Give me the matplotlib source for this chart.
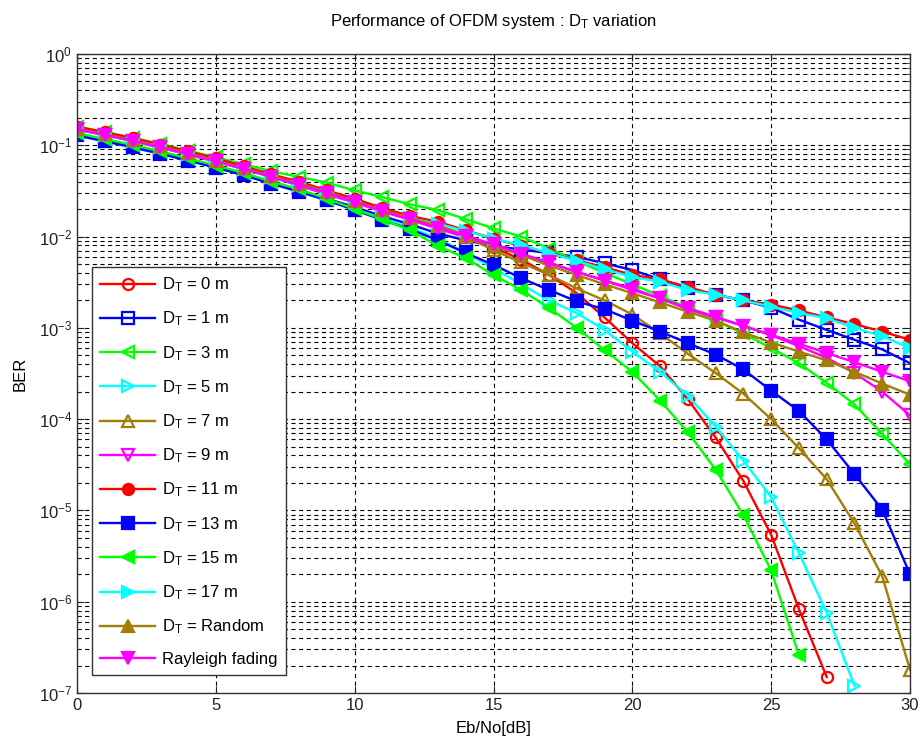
import numpy as np
import matplotlib
matplotlib.use("Agg")
import matplotlib.pyplot as plt
from matplotlib.ticker import LogLocator, NullLocator, NullFormatter, MultipleLocator

plt.rcParams['font.family'] = ['Liberation Sans', 'DejaVu Sans']
plt.rcParams['mathtext.fontset'] = 'custom'
plt.rcParams['mathtext.rm'] = 'Liberation Sans'
plt.rcParams['mathtext.it'] = 'Liberation Sans:italic'
plt.rcParams['lines.scale_dashes'] = False

eb_no = np.arange(0, 31)

ber_dt0 = [0.157, 0.136, 0.117, 0.100, 0.084, 0.070, 0.058, 0.047, 0.039, 0.031, 0.025,
           0.020, 0.016, 0.0128, 0.0102, 7.6e-3, 5.6e-3, 3.8e-3, 2.4e-3, 1.3e-3, 6.8e-4,
           3.8e-4, 1.65e-4, 6.3e-5, 2.1e-5, 5.4e-6, 8.3e-7, 1.5e-7]
ber_dt1 = [0.133, 0.113, 0.098, 0.083, 0.069, 0.058, 0.048, 0.039, 0.032, 0.026, 0.021,
           0.0167, 0.0136, 0.0108, 0.0091, 0.0079, 0.0072, 0.0066, 0.0060, 0.0051, 0.0043,
           0.0034, 0.0027, 0.0023, 0.0020, 1.66e-3, 1.23e-3, 9.5e-4, 7.4e-4, 5.8e-4, 4.1e-4]
ber_dt3 = [0.160, 0.140, 0.121, 0.104, 0.087, 0.074, 0.062, 0.052, 0.045, 0.039, 0.032,
           0.027, 0.0225, 0.0195, 0.0155, 0.0123, 0.010, 0.0074, 0.0054, 0.0040, 0.0030,
           0.00224, 0.00166, 0.0012, 8.7e-4, 6.0e-4, 4.1e-4, 2.5e-4, 1.45e-4, 6.9e-5, 3.2e-5]
ber_dt5 = [0.128, 0.110, 0.095, 0.080, 0.068, 0.057, 0.047, 0.038, 0.031, 0.025, 0.020,
           0.0158, 0.0125, 9.5e-3, 6.6e-3, 4.5e-3, 3.0e-3, 2.0e-3, 1.45e-3, 9.5e-4, 5.5e-4,
           3.3e-4, 1.8e-4, 8.3e-5, 3.5e-5, 1.4e-5, 3.4e-6, 7.6e-7, 1.2e-7]
ber_dt7 = [0.153, 0.133, 0.114, 0.097, 0.082, 0.068, 0.056, 0.046, 0.038, 0.031, 0.0245,
           0.0194, 0.0158, 0.0126, 0.010, 7.1e-3, 5.2e-3, 3.8e-3, 2.7e-3, 2.0e-3, 1.4e-3,
           8.7e-4, 5.2e-4, 3.2e-4, 1.9e-4, 1.0e-4, 4.8e-5, 2.2e-5, 7.2e-6, 1.9e-6, 1.8e-7]
ber_dt9 = [0.148, 0.129, 0.111, 0.094, 0.079, 0.066, 0.055, 0.045, 0.036, 0.029, 0.0235,
           0.0188, 0.0152, 0.0122, 0.0098, 0.0079, 0.0064, 0.0051, 0.0041, 0.0033, 0.0027,
           0.0021, 0.0016, 1.3e-3, 1.05e-3, 8.3e-4, 6.3e-4, 4.7e-4, 3.2e-4, 2.0e-4, 1.1e-4]
ber_dt11 = [0.160, 0.139, 0.120, 0.102, 0.086, 0.072, 0.059, 0.048, 0.040, 0.032, 0.026,
            0.0205, 0.0168, 0.0145, 0.0117, 0.0095, 0.0079, 0.0066, 0.0055, 0.0046, 0.0038,
            0.0034, 0.0028, 0.0023, 0.0020, 0.0018, 1.55e-3, 1.3e-3, 1.1e-3, 9.1e-4, 7.4e-4]
ber_dt13 = [0.128, 0.111, 0.095, 0.081, 0.068, 0.057, 0.047, 0.038, 0.031, 0.025, 0.0195,
            0.0152, 0.012, 9.1e-3, 6.6e-3, 4.9e-3, 3.5e-3, 2.6e-3, 1.95e-3, 1.6e-3, 1.2e-3,
            9.1e-4, 6.8e-4, 5.1e-4, 3.5e-4, 2.05e-4, 1.23e-4, 6.0e-5, 2.5e-5, 1.02e-5, 2.0e-6]
ber_dt15 = [0.136, 0.117, 0.101, 0.086, 0.072, 0.060, 0.050, 0.040, 0.033, 0.026, 0.020,
            0.0155, 0.0117, 7.9e-3, 5.8e-3, 3.8e-3, 2.6e-3, 1.65e-3, 1.0e-3, 5.7e-4, 3.3e-4,
            1.6e-4, 7.2e-5, 2.8e-5, 8.9e-6, 2.2e-6, 2.6e-7]
ber_dt17 = [0.150, 0.131, 0.112, 0.095, 0.080, 0.067, 0.055, 0.045, 0.037, 0.030, 0.024,
            0.0192, 0.0158, 0.0138, 0.0115, 0.0095, 0.0081, 0.0066, 0.0054, 0.0044, 0.0036,
            0.0032, 0.0026, 0.0023, 0.0020, 1.7e-3, 1.45e-3, 1.28e-3, 1.0e-3, 8.1e-4, 6.0e-4]
ber_random = [0.152, 0.132, 0.114, 0.097, 0.082, 0.068, 0.056, 0.046, 0.038, 0.031, 0.0245,
              0.0195, 0.016, 0.0132, 0.0105, 7.9e-3, 6.3e-3, 4.8e-3, 3.8e-3, 3.0e-3, 2.4e-3,
              1.9e-3, 1.5e-3, 1.2e-3, 8.9e-4, 6.9e-4, 5.5e-4, 4.4e-4, 3.3e-4, 2.45e-4, 1.85e-4]
ber_rayleigh = [0.150, 0.130, 0.112, 0.095, 0.080, 0.067, 0.055, 0.045, 0.037, 0.030, 0.024,
                0.019, 0.0155, 0.0125, 0.0102, 0.0082, 0.0065, 0.0052, 0.0041, 0.0033, 0.0026,
                0.0021, 0.00165, 0.00132, 0.00105, 8.4e-4, 6.7e-4, 5.3e-4, 4.2e-4, 3.3e-4, 2.6e-4]

labels = [r'$\mathregular{D_T}$ = 0 m', r'$\mathregular{D_T}$ = 1 m', r'$\mathregular{D_T}$ = 3 m',
          r'$\mathregular{D_T}$ = 5 m', r'$\mathregular{D_T}$ = 7 m', r'$\mathregular{D_T}$ = 9 m',
          r'$\mathregular{D_T}$ = 11 m', r'$\mathregular{D_T}$ = 13 m', r'$\mathregular{D_T}$ = 15 m',
          r'$\mathregular{D_T}$ = 17 m', r'$\mathregular{D_T}$ = Random', 'Rayleigh fading']
series = [ber_dt0, ber_dt1, ber_dt3, ber_dt5, ber_dt7, ber_dt9,
          ber_dt11, ber_dt13, ber_dt15, ber_dt17, ber_random, ber_rayleigh]

brown = '#A37D05'
colors = ['#FF0000', '#0000FF', '#00FF00', '#00FFFF', brown, '#FF00FF',
          '#FF0000', '#0000FF', '#00FF00', '#00FFFF', brown, '#FF00FF']
markers = ['o', 's', '<', '>', '^', 'v', 'o', 's', '<', '>', '^', 'v']
filled = [False] * 6 + [True] * 6

fig = plt.figure(figsize=(9.21, 7.49), dpi=100)
ax = fig.add_axes([77 / 921, 1 - 693 / 749, 833 / 921, 639 / 749])

for ber, lab, c, m, f in zip(series, labels, colors, markers, filled):
    x = eb_no[:len(ber)]
    ax.semilogy(x, ber, color=c, marker=m, lw=1.7, markersize=8, markeredgewidth=1.6,
                markerfacecolor=c if f else 'none', markeredgecolor=c, label=lab)

ax.set_xlim(0, 30)
ax.set_ylim(1e-7, 1)
ax.xaxis.set_major_locator(MultipleLocator(5))
ax.xaxis.set_minor_locator(NullLocator())
ax.yaxis.set_major_locator(LogLocator(base=10, numticks=10))
ax.yaxis.set_minor_locator(LogLocator(base=10, subs=np.arange(2, 10), numticks=10))
ax.yaxis.set_minor_formatter(NullFormatter())

grid_style = dict(color='black', linestyle=(0, (3, 2.5)), linewidth=0.8)
ax.grid(True, which='major', **grid_style)
ax.grid(True, which='minor', axis='y', **grid_style)
ax.set_axisbelow(True)

ax.tick_params(which='both', direction='in', top=True, right=True, labelsize=12, colors='#222222')
ax.tick_params(which='major', length=5)
ax.tick_params(which='minor', length=3)
for s in ax.spines.values():
    s.set_linewidth(1.0)
    s.set_color('#333333')

ax.set_xlabel('Eb/No[dB]', fontsize=12, labelpad=6)
ax.set_ylabel('BER', fontsize=12, labelpad=8)
ax.set_title(r'Performance of OFDM system : $\mathregular{D_T}$ variation', fontsize=12, pad=20)

leg = ax.legend(loc='lower left', bbox_to_anchor=(0.018, 0.028), fontsize=12,
                handlelength=3.3, handletextpad=0.4, labelspacing=0.93, borderaxespad=0,
                fancybox=False, edgecolor='#333333', framealpha=1, borderpad=0.5)
leg.get_frame().set_linewidth(1.0)

fig.savefig('out.png', dpi=100)
